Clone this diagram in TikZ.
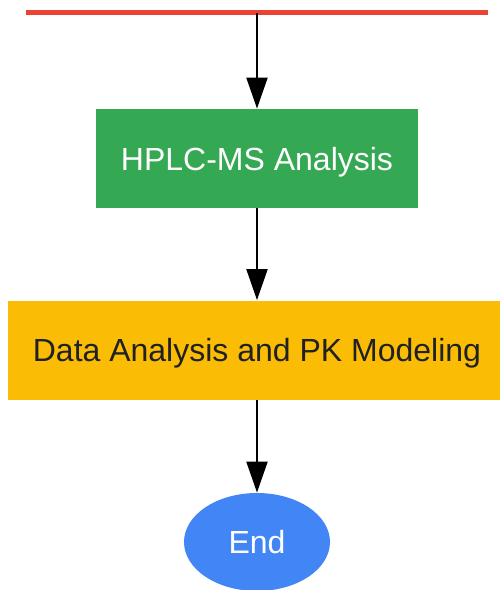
\documentclass[tikz,border=0pt]{standalone}
\usepackage{fontspec}
\setmainfont{Liberation Sans}
\usetikzlibrary{arrows.meta,shapes.geometric}

\definecolor{barred}{HTML}{EA4335}
\definecolor{stepgreen}{HTML}{34A853}
\definecolor{stepyellow}{HTML}{FBBC05}
\definecolor{endblue}{HTML}{4285F4}
\definecolor{darktext}{HTML}{202124}

\tikzset{
  stepbox/.style={rectangle, inner sep=0pt, text depth=0pt, font=\fontsize{16}{19}\selectfont},
  flow/.style={line width=1pt, -{Triangle[length=15.5pt, width=10.5pt]}}
}

\begin{document}
\begin{tikzpicture}[x=0.5pt, y=-0.5pt]
      \useasboundingbox (0,0) rectangle (499,590);

      % Top bar
      \draw [barred, line width=2.5pt] (26,12.5) -- (488,12.5);
      \coordinate (bar) at (257,12.5);

      % Steps
      \node [stepbox, fill=stepgreen, text=white, minimum width=161pt, minimum height=49.5pt]
        (hplc) at (257,158.5) {HPLC-MS Analysis};
      \node [stepbox, fill=stepyellow, text=darktext, minimum width=249pt, minimum height=49.5pt]
        (pk) at (257,350) {Data Analysis and PK Modeling};
      \node [stepbox, ellipse, fill=endblue, text=white, minimum width=73pt, minimum height=49pt]
        (end) at (257,542) {End};

      % Arrows
      \draw [flow] (bar) -- (hplc.north);
      \draw [flow] (hplc) -- (pk);
      \draw [flow] (pk) -- (end);
    \end{tikzpicture}
\end{document}
